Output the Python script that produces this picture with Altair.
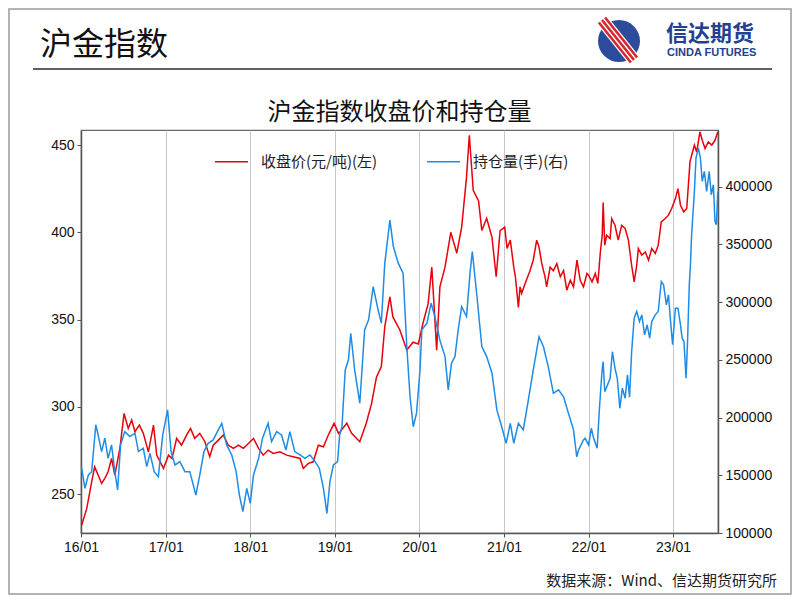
import altair as alt
import pandas as pd

# ---------------- data ----------------
price_dates = [
    "2016-01-04", "2016-01-26", "2016-02-16", "2016-02-29", "2016-03-15", "2016-03-30", "2016-04-13", "2016-04-27",
    "2016-05-12", "2016-05-26", "2016-06-17", "2016-07-05", "2016-07-23", "2016-08-07", "2016-08-21", "2016-09-09",
    "2016-09-26", "2016-10-18", "2016-11-09", "2016-11-23", "2016-12-22",
    "2017-01-13", "2017-01-28", "2017-02-17", "2017-03-10", "2017-04-01", "2017-04-18", "2017-05-06", "2017-05-28",
    "2017-06-19", "2017-07-10", "2017-07-25", "2017-08-16", "2017-09-07", "2017-09-28", "2017-10-20", "2017-11-11",
    "2017-12-02", "2017-12-24",
    "2018-01-15", "2018-02-06", "2018-02-26", "2018-03-19", "2018-04-10", "2018-05-09", "2018-06-07", "2018-07-05",
    "2018-08-04", "2018-08-18", "2018-09-09", "2018-09-30", "2018-10-22", "2018-11-13", "2018-12-04", "2018-12-29",
    "2019-01-17", "2019-01-24", "2019-02-22", "2019-03-14", "2019-04-19", "2019-05-17", "2019-06-09", "2019-06-30",
    "2019-07-21", "2019-08-05", "2019-08-27", "2019-09-09", "2019-10-09", "2019-11-08", "2019-12-05", "2019-12-28",
    "2020-01-17", "2020-02-08", "2020-02-24", "2020-03-16", "2020-03-30", "2020-04-21", "2020-05-16", "2020-06-11",
    "2020-07-02", "2020-07-23", "2020-08-04", "2020-08-21", "2020-09-13", "2020-09-27", "2020-10-18", "2020-11-10",
    "2020-11-28", "2020-12-15",
    "2021-01-04", "2021-01-14", "2021-01-28", "2021-02-12", "2021-02-19", "2021-03-04", "2021-03-11", "2021-03-18",
    "2021-04-02", "2021-04-23", "2021-05-07", "2021-05-22", "2021-06-01", "2021-06-13", "2021-06-27", "2021-07-04",
    "2021-07-19", "2021-08-02", "2021-08-17", "2021-09-01", "2021-09-15", "2021-09-29", "2021-10-14", "2021-10-28",
    "2021-11-12", "2021-11-26", "2021-12-10", "2021-12-25",
    "2022-01-01", "2022-01-16", "2022-01-30", "2022-02-10", "2022-02-21", "2022-03-01", "2022-03-05", "2022-03-12",
    "2022-03-20", "2022-04-04", "2022-04-11", "2022-04-25", "2022-05-09", "2022-05-24", "2022-06-08", "2022-06-22",
    "2022-07-06", "2022-07-17", "2022-07-28", "2022-08-04", "2022-08-19", "2022-09-03", "2022-09-17", "2022-10-01",
    "2022-10-16", "2022-10-29", "2022-11-11", "2022-11-28", "2022-12-12", "2022-12-26",
    "2023-01-11", "2023-01-22", "2023-02-02", "2023-02-16", "2023-03-01", "2023-03-15", "2023-03-22", "2023-04-03",
    "2023-04-13", "2023-04-27", "2023-05-07", "2023-05-19", "2023-06-02", "2023-06-17", "2023-07-01", "2023-07-13",
]
price_values = [
    232.2, 241.8, 257, 265.6, 260.9, 256.1, 259, 262.8, 270.4, 260.9, 276.2, 296.2, 287.6, 292.4, 285.7, 289.5,
    284.8, 274.2, 289.5, 272.3, 264.7,
    272.3, 270.4, 281.9, 278, 283.8, 287.6, 281.9, 284.8, 280, 271.4, 278, 280.9, 283.8, 278, 276.2, 278,
    276.2, 279,
    281.9, 276.2, 272.3, 275.2, 273.3, 274.2, 272.3, 271.4, 270.4, 264.7, 267.6, 268.5, 278, 277.1, 283.8, 290.5,
    284.8, 285.7, 290.6, 285, 280, 290.6, 302, 317, 323, 346, 363, 351.5, 344, 332.5, 337, 336,
    348, 359, 380, 332.5, 368.7, 380, 400, 388, 403, 431.7, 455.6, 424, 418, 401, 408, 397, 374.5, 401,
    403, 390.7, 395.5, 380, 374.5, 357, 368.7, 365, 370.7, 378, 384, 395.5, 391.6, 382, 374.5, 368.7,
    380, 378, 382, 374.5, 378, 366.8, 372.5, 368.7, 384, 372.5, 368.7, 376.4,
    375.4, 371.6, 376.4, 370.7, 388.7, 398.3, 417, 392.6, 398.3, 396.4, 407.9, 404, 395.5, 404, 402.2, 395.5,
    381.1, 371.6, 381.1, 390.7, 386.9, 388.7, 384, 390.7, 387.9, 392.6, 405.9, 407.9, 409.8, 413.6,
    419.3, 425, 415.5, 411.7, 413.6, 440.3, 444, 449.9, 446, 457.5, 452.7, 448, 451.8, 450, 452.7, 457.5,
]

oi_dates = [
    "2016-01-04", "2016-01-18", "2016-02-02", "2016-02-16", "2016-03-05", "2016-03-15", "2016-03-30", "2016-04-13",
    "2016-04-27", "2016-05-12", "2016-05-26", "2016-06-07", "2016-06-20", "2016-07-08", "2016-07-30", "2016-08-21",
    "2016-09-05", "2016-09-26", "2016-10-11", "2016-10-25", "2016-11-12", "2016-11-30", "2016-12-19",
    "2017-01-09", "2017-01-24", "2017-02-10", "2017-03-03", "2017-03-25", "2017-04-15", "2017-05-11", "2017-05-28",
    "2017-06-15", "2017-07-03", "2017-07-25", "2017-08-12", "2017-08-31", "2017-09-21", "2017-10-13", "2017-11-01",
    "2017-11-15", "2017-11-30", "2017-12-17",
    "2018-01-01", "2018-01-15", "2018-02-06", "2018-02-23", "2018-03-19", "2018-04-03", "2018-04-25", "2018-05-16",
    "2018-06-04", "2018-06-21", "2018-07-12", "2018-08-04", "2018-08-25", "2018-09-16", "2018-10-08", "2018-10-26",
    "2018-11-13", "2018-11-28", "2018-12-11", "2018-12-26",
    "2019-01-13", "2019-01-22", "2019-02-01", "2019-02-15", "2019-03-01", "2019-03-11", "2019-03-28", "2019-04-19",
    "2019-05-10", "2019-05-27", "2019-06-16", "2019-07-07", "2019-07-21", "2019-08-05", "2019-08-27", "2019-09-11",
    "2019-10-02", "2019-10-23", "2019-11-08", "2019-11-22", "2019-12-06", "2019-12-20",
    "2020-01-04", "2020-01-12", "2020-02-03", "2020-02-21", "2020-03-08", "2020-03-30", "2020-04-21", "2020-05-05",
    "2020-05-19", "2020-06-03", "2020-06-17", "2020-07-02", "2020-07-23", "2020-08-07", "2020-08-17", "2020-09-06",
    "2020-09-27", "2020-10-18", "2020-11-10", "2020-12-01", "2020-12-22",
    "2021-01-10", "2021-01-28", "2021-02-12", "2021-03-04", "2021-03-25", "2021-04-16", "2021-05-07", "2021-06-01",
    "2021-06-20", "2021-07-11", "2021-08-02", "2021-08-24", "2021-09-15", "2021-10-06", "2021-10-28", "2021-11-11",
    "2021-11-19", "2021-12-10", "2021-12-17",
    "2022-01-01", "2022-01-13", "2022-01-23", "2022-02-07", "2022-02-17", "2022-02-28", "2022-03-05", "2022-03-12",
    "2022-03-24", "2022-04-04", "2022-04-14", "2022-04-25", "2022-05-05", "2022-05-16", "2022-05-27", "2022-06-08",
    "2022-06-18", "2022-06-27", "2022-07-06", "2022-07-17", "2022-07-28", "2022-08-09", "2022-08-19", "2022-08-31",
    "2022-09-11", "2022-09-22", "2022-10-01", "2022-10-16", "2022-10-29", "2022-11-11", "2022-11-21", "2022-12-03",
    "2022-12-12", "2022-12-20", "2022-12-30",
    "2023-01-11", "2023-01-22", "2023-02-02", "2023-02-09", "2023-02-17", "2023-02-26", "2023-03-04", "2023-03-12",
    "2023-03-17", "2023-03-22", "2023-04-03", "2023-04-10", "2023-04-20", "2023-04-29", "2023-05-07", "2023-05-16",
    "2023-05-26", "2023-06-06", "2023-06-15", "2023-06-24", "2023-07-01", "2023-07-07", "2023-07-13",
]
oi_values = [
    156100, 138700, 150300, 153100, 193600, 184900, 170500, 182100, 164700, 176300, 153100, 137300, 176300, 187800,
    183500, 186400, 170500, 173400, 157500, 169000, 153100, 148800, 184900,
    206600, 170500, 158900, 161800, 153100, 153100, 132900, 150300, 170500, 177700, 180600, 187800, 195000, 176300,
    167600, 153100, 132900, 118500, 138700,
    125700, 150300, 164700, 182100, 195000, 179200, 187800, 184900, 171900, 187800, 170500, 167600, 164700, 167600,
    161800, 156100, 138700, 117000, 144500, 158900,
    161800, 184900, 192000, 241000, 250000, 273000, 241000, 212400, 276000, 284600, 313400, 293300, 281700, 333700,
    371000, 348000, 333700, 325000, 261500, 218000, 192000, 203700,
    241000, 276000, 281700, 299000, 287500, 267000, 252800, 223900, 247000, 252800, 276000, 296000, 287500, 325000,
    343800, 304800, 261500, 252800, 238400, 206600, 192000,
    177700, 195000, 177700, 195000, 189300, 215300, 241000, 270000, 261500, 244000, 221000, 224000, 218000, 203700,
    189300, 166000, 172000, 180600, 182000,
    176300, 190700, 182000, 173400, 208000, 239800, 248500, 222400, 228300, 234000, 257000, 242700, 234000, 208000,
    225400, 216700, 236900, 217600, 257000, 286000, 291800, 283100, 288900, 271600, 280300, 268700, 283100, 288900,
    291800, 317800, 314900, 297600, 306300, 286000, 263000,
    294700, 294700, 280300, 268700, 265800, 234000, 263000, 314900, 332300, 358300, 395800, 424700, 433400, 424700,
    404500, 413100, 395800, 413100, 392900, 401600, 369800, 367000, 395800,
]

series_names = ["收盘价(元/吨)(左)", "持仓量(手)(右)"]
series_colors = ["#e8000b", "#1e8ce6"]
year_ticks = [2016, 2017, 2018, 2019, 2020, 2021, 2022, 2023]
price_ticks = [250, 300, 350, 400, 450]
oi_ticks = [100000, 150000, 200000, 250000, 300000, 350000, 400000]

header_text = "沪金指数"
chart_title = "沪金指数收盘价和持仓量"
source_text = "数据来源：Wind、信达期货研究所"
logo_cn = "信达期货"
logo_en = "CINDA FUTURES"

assert len(price_dates) == len(price_values)
assert len(oi_dates) == len(oi_values)

df = pd.concat([
    pd.DataFrame({"date": price_dates, "value": price_values, "series": series_names[0]}),
    pd.DataFrame({"date": oi_dates, "value": oi_values, "series": series_names[1]}),
], ignore_index=True)

W, H = 637, 403
CJK = "Noto Sans CJK SC"
LAT = "Liberation Sans"

x_enc = alt.X(
    "date:T", title=None,
    scale=alt.Scale(type="utc", domain=[alt.DateTime(year=2016, month=1, date=1, utc=True),
                                        alt.DateTime(year=2023, month=7, date=14, utc=True)]),
    axis=alt.Axis(values=[alt.DateTime(year=y, month=1, date=1, utc=True) for y in year_ticks],
                  labelExpr="utcFormat(datum.value, '%y/%m')", labelFlush=False,
                  grid=True, gridColor="#c8c8c8", gridWidth=1,
                  labelFont=LAT, labelFontSize=14, labelColor="#111", tickColor="#555", tickSize=4,
                  domainColor="#555", domainWidth=1.5, labelPadding=3),
)

color_enc = alt.Color(
    "series:N",
    scale=alt.Scale(domain=series_names, range=series_colors),
    legend=alt.Legend(orient="none", legendX=133, legendY=14, direction="horizontal", title=None,
                      symbolType="stroke", symbolSize=1089, symbolStrokeWidth=1.5,
                      labelFont=CJK, labelFontSize=15, labelColor="#222", labelOffset=12,
                      columnPadding=46, padding=0),
)

price_layer = alt.Chart(df).transform_filter(alt.datum.series == series_names[0]).mark_line(
    strokeWidth=1.5).encode(
    x=x_enc,
    y=alt.Y("value:Q", title=None,
            scale=alt.Scale(domain=[227.7, 458.6], nice=False, zero=False),
            axis=alt.Axis(orient="left", values=price_ticks, grid=False, labelFont=LAT, labelFontSize=14,
                          labelColor="#111", tickColor="#555", tickSize=4, domainColor="#555",
                          domainWidth=1.5, labelPadding=3)),
    color=color_enc,
)

oi_layer = alt.Chart(df).transform_filter(alt.datum.series == series_names[1]).mark_line(
    strokeWidth=1.5).encode(
    x=x_enc,
    y=alt.Y("value:Q", title=None,
            scale=alt.Scale(domain=[100000, 449000], nice=False, zero=False),
            axis=alt.Axis(orient="right", values=oi_ticks, format="d", grid=False, labelFont=LAT,
                          labelFontSize=14, labelColor="#111", tickColor="#555", tickSize=4,
                          domainColor="#555", domainWidth=1.5, labelPadding=3)),
    color=color_enc,
)

# ---------------- slide decorations (positions relative to plot origin) ----------------
one = pd.DataFrame({"k": [0]})

border = alt.Chart(one).mark_rect(fillOpacity=0, stroke="#9a9a9a", strokeWidth=1.5).encode(
    x=alt.value(-72), x2=alt.value(W + 73), y=alt.value(-121), y2=alt.value(H + 61))

header = alt.Chart(one).mark_text(text=header_text, font=CJK, fontSize=32, align="left",
                                  baseline="middle", color="#111").encode(
    x=alt.value(-41), y=alt.value(-85))

header_line = alt.Chart(one).mark_rule(color="#606060", strokeWidth=2).encode(
    x=alt.value(-48), x2=alt.value(691), y=alt.value(-61))

logo_circle = alt.Chart(one).mark_point(shape="circle", filled=True, size=1764, color="#2c4b9b",
                                        opacity=1).encode(x=alt.value(538), y=alt.value(-89))
logo_white = alt.Chart(one).mark_rule(color="white", strokeWidth=13).encode(
    x=alt.value(521), x2=alt.value(553), y=alt.value(-110), y2=alt.value(-70))
logo_red = [
    alt.Chart(one).mark_rule(color="#d8262e", strokeWidth=2.6).encode(
        x=alt.value(521 + dx), x2=alt.value(553 + dx), y=alt.value(-110 + dy), y2=alt.value(-70 + dy))
    for dx, dy in [(-3.1, 2.5), (0, 0), (3.1, -2.5)]
]
logo_cn_t = alt.Chart(one).mark_text(text=logo_cn, font=CJK, fontSize=22, fontWeight="bold",
                                     align="left", baseline="middle", color="#24408e").encode(
    x=alt.value(585), y=alt.value(-96))
logo_en_t = alt.Chart(one).mark_text(text=logo_en, font=LAT, fontSize=11, fontWeight="bold",
                                     align="left", baseline="middle", color="#24408e").encode(
    x=alt.value(586), y=alt.value(-77))

title = alt.Chart(one).mark_text(text=chart_title, font=CJK, fontSize=24, align="center",
                                 baseline="middle", color="#111").encode(
    x=alt.value(W / 2), y=alt.value(-17))

source = alt.Chart(one).mark_text(text=source_text, font=CJK, fontSize=15, align="right",
                                  baseline="middle", color="#222").encode(
    x=alt.value(696), y=alt.value(451))

chart = alt.layer(
    price_layer, oi_layer, border, header, header_line, logo_circle, logo_white, *logo_red,
    logo_cn_t, logo_en_t, title, source,
).resolve_scale(y="independent").properties(
    width=W, height=H,
    padding={"left": 73, "top": 122, "right": 74, "bottom": 62},
    autosize=alt.AutoSizeParams(type="none"),
    background="white",
).configure_view(stroke="#666", strokeWidth=1.2)

chart.save("out.html", embed_options={"renderer": "svg", "actions": False})
